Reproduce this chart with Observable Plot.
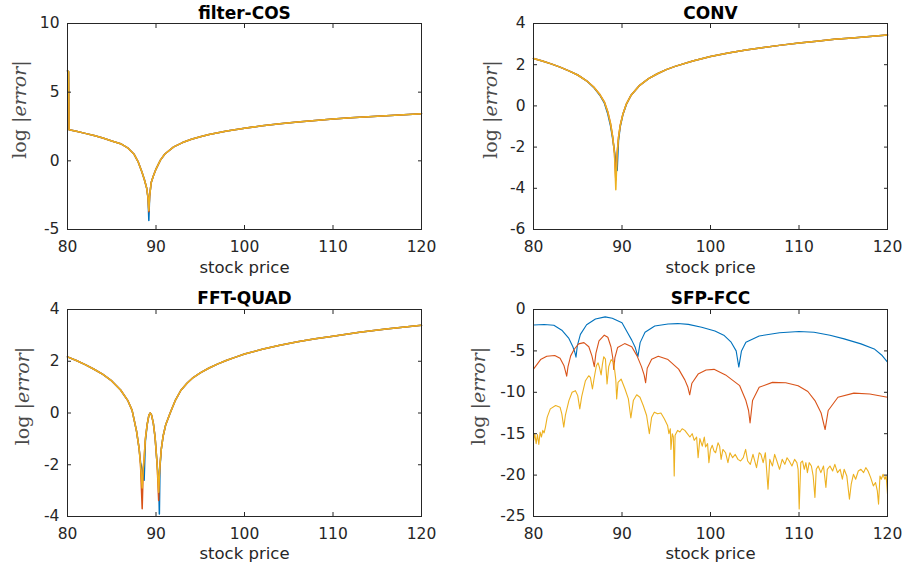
<!DOCTYPE html>
<html><head><meta charset="utf-8">
<script src="https://cdn.jsdelivr.net/npm/d3@7"></script>
<script src="https://cdn.jsdelivr.net/npm/@observablehq/plot@0.6"></script>
<style>
body{margin:0;background:#fff;}
#chart{position:relative;width:903px;height:567px;background:#fff;overflow:hidden;}
#chart svg{position:absolute;overflow:visible;}
</style></head><body><div id="chart"></div>
<script>
// ---------- data ----------
const titles = ["filter-COS", "CONV", "FFT-QUAD", "SFP-FCC"];
const xTicks = [80, 90, 100, 110, 120];
const yTicks1 = [-5, 0, 5, 10];
const yTicks2 = [-6, -4, -2, 0, 2, 4];
const yTicks3 = [-4, -2, 0, 2, 4];
const yTicks4 = [-25, -20, -15, -10, -5, 0];

// panel 1: filter-COS
const p1X      = [80, 80.12, 80.18, 81, 82, 83, 84, 85, 86, 86.8, 87.5, 88, 88.4, 88.7, 88.95, 89.1, 89.19, 89.28, 89.45, 89.7, 90, 90.5, 91, 92, 93, 94, 95, 96, 98, 100, 102, 104, 106, 108, 110, 112, 114, 116, 118, 120];
const p1Blue   = [6.55, 6.5, 2.27, 2.15, 2.0, 1.84, 1.66, 1.45, 1.25, 0.95, 0.5, -0.1, -0.8, -1.4, -2.0, -2.7, -4.35, -2.6, -1.6, -1.1, -0.6, 0.05, 0.5, 1.02, 1.33, 1.57, 1.76, 1.92, 2.17, 2.38, 2.55, 2.7, 2.82, 2.93, 3.04, 3.13, 3.21, 3.29, 3.36, 3.43];
const p1Red    = [6.55, 6.5, 2.27, 2.15, 2.0, 1.84, 1.66, 1.45, 1.25, 0.95, 0.5, -0.1, -0.8, -1.4, -2.0, -2.7, -3.7, -2.6, -1.6, -1.1, -0.6, 0.05, 0.5, 1.02, 1.33, 1.57, 1.76, 1.92, 2.17, 2.38, 2.55, 2.7, 2.82, 2.93, 3.04, 3.13, 3.21, 3.29, 3.36, 3.43];
const p1Yellow = [6.55, 6.5, 2.27, 2.15, 2.0, 1.84, 1.66, 1.45, 1.25, 0.95, 0.5, -0.1, -0.8, -1.4, -2.0, -2.7, -3.62, -2.6, -1.6, -1.1, -0.6, 0.05, 0.5, 1.02, 1.33, 1.57, 1.76, 1.92, 2.17, 2.38, 2.55, 2.7, 2.82, 2.93, 3.04, 3.13, 3.21, 3.29, 3.36, 3.43];

// panel 2: CONV
const p2X      = [80, 81, 82, 83, 84, 85, 86, 86.8, 87.5, 88, 88.4, 88.7, 88.95, 89.15, 89.3, 89.45, 89.6, 89.8, 90.1, 90.5, 91, 92, 93, 94, 95, 96, 98, 100, 102, 104, 106, 108, 110, 112, 114, 116, 118, 120];
const p2Blue   = [2.3, 2.18, 2.04, 1.88, 1.7, 1.5, 1.22, 0.9, 0.52, 0.15, -0.4, -0.95, -1.6, -2.2, -2.7, -3.14, -1.7, -1.0, -0.42, 0.08, 0.5, 1.0, 1.32, 1.56, 1.76, 1.92, 2.18, 2.4, 2.57, 2.71, 2.84, 2.95, 3.05, 3.14, 3.23, 3.3, 3.37, 3.44];
const p2Red    = [2.3, 2.18, 2.04, 1.88, 1.7, 1.5, 1.22, 0.92, 0.55, 0.2, -0.3, -0.85, -1.5, -2.3, -3.6, -2.3, -1.55, -0.95, -0.4, 0.1, 0.5, 1.0, 1.32, 1.56, 1.76, 1.92, 2.18, 2.4, 2.57, 2.71, 2.84, 2.95, 3.05, 3.14, 3.23, 3.3, 3.37, 3.44];
const p2Yellow = [2.3, 2.18, 2.04, 1.88, 1.7, 1.5, 1.22, 0.92, 0.55, 0.2, -0.3, -0.85, -1.5, -2.3, -4.07, -2.3, -1.55, -0.95, -0.4, 0.1, 0.5, 1.0, 1.32, 1.56, 1.76, 1.92, 2.18, 2.4, 2.57, 2.71, 2.84, 2.95, 3.05, 3.14, 3.23, 3.3, 3.37, 3.44];

// panel 3: FFT-QUAD
const p3X      = [80, 81, 82, 83, 84, 85, 86, 86.8, 87.3, 87.8, 88.1, 88.25, 88.44, 88.55, 88.66, 88.8, 89.0, 89.2, 89.35, 89.5, 89.7, 89.9, 90.13, 90.3, 90.38, 90.45, 90.6, 90.8, 91.1, 91.6, 92.2, 92.8, 93.5, 94.2, 95, 96, 97, 98, 99, 100, 102, 104, 106, 108, 110, 113, 116, 120];
const p3Blue   = [2.17, 2.03, 1.87, 1.69, 1.49, 1.24, 0.89, 0.49, 0.1, -0.7, -1.4, -1.9, -2.2, -2.45, -2.6, -1.1, -0.45, -0.08, 0.0, -0.08, -0.4, -0.95, -2.0, -2.6, -3.9, -2.1, -1.4, -0.9, -0.45, 0.0, 0.5, 0.87, 1.15, 1.37, 1.55, 1.74, 1.9, 2.04, 2.16, 2.28, 2.46, 2.62, 2.75, 2.87, 2.97, 3.12, 3.25, 3.39];
const p3Red    = [2.17, 2.03, 1.87, 1.69, 1.49, 1.24, 0.89, 0.49, 0.1, -0.7, -1.4, -2.0, -3.7, -2.2, -1.75, -1.0, -0.45, -0.08, 0.0, -0.08, -0.4, -0.95, -2.0, -3.38, -2.4, -2.0, -1.4, -0.9, -0.45, 0.0, 0.5, 0.87, 1.15, 1.37, 1.55, 1.74, 1.9, 2.04, 2.16, 2.28, 2.46, 2.62, 2.75, 2.87, 2.97, 3.12, 3.25, 3.39];
const p3Yellow = [2.17, 2.03, 1.87, 1.69, 1.49, 1.24, 0.89, 0.49, 0.1, -0.7, -1.4, -2.0, -2.9, -2.2, -1.75, -1.0, -0.45, -0.08, 0.0, -0.08, -0.4, -0.95, -2.0, -3.06, -2.4, -2.0, -1.4, -0.9, -0.45, 0.0, 0.5, 0.87, 1.15, 1.37, 1.55, 1.74, 1.9, 2.04, 2.16, 2.28, 2.46, 2.62, 2.75, 2.87, 2.97, 3.12, 3.25, 3.39];

// panel 4: SFP-FCC  ([stock price, log|error|])
const p4Blue = [[80,-1.88],[81.2,-1.82],[82.3,-1.9],[83.2,-2.5],[84.0,-3.5],[84.45,-4.5],[84.65,-5.1],[84.8,-5.75],[84.95,-4.4],[85.3,-3.0],
  [86.0,-1.85],[87.0,-1.15],[88.1,-0.89],[88.9,-1.05],[90.0,-1.6],[90.6,-2.75],[91.1,-3.7],[91.5,-4.6],[91.8,-5.7],[92.05,-4.0],
  [92.6,-2.75],[93.7,-2.0],[95.2,-1.75],[96.3,-1.7],[97.5,-1.8],[99.0,-2.14],[100.5,-2.6],[101.5,-3.1],[102.3,-3.9],[102.9,-5.0],
  [103.2,-6.95],[103.5,-5.0],[104.0,-3.95],[105.5,-3.2],[107.8,-2.8],[110.0,-2.65],[111.7,-2.75],[113.5,-3.1],[115.1,-3.55],[117.0,-4.15],
  [118.5,-4.76],[119.4,-5.56],[120,-6.35]];
const p4Red = [[80,-7.2],[80.8,-6.05],[81.5,-5.65],[82.4,-5.55],[83.0,-5.9],[83.45,-6.8],[83.6,-7.4],[83.75,-8.05],[83.9,-6.9],[84.2,-5.6],
  [84.6,-4.8],[85.1,-4.15],[85.7,-4.0],[86.25,-4.5],[86.6,-5.6],[86.87,-6.9],[87.05,-5.3],[87.4,-3.8],[88.0,-3.1],[88.4,-3.35],
  [88.75,-4.5],[88.95,-5.8],[89.07,-7.25],[89.2,-5.8],[89.5,-4.6],[90.3,-4.12],[91.1,-4.5],[91.7,-5.6],[92.2,-6.9],[92.5,-7.9],
  [92.67,-8.85],[92.85,-7.1],[93.35,-6.0],[94.1,-5.65],[95.2,-6.05],[96.4,-7.2],[97.1,-8.5],[97.45,-9.4],[97.65,-10.3],[97.9,-8.9],
  [98.6,-7.8],[99.5,-7.3],[100.4,-7.23],[101.7,-7.9],[103.3,-9.2],[104.0,-11.0],[104.3,-12.2],[104.47,-13.7],[104.75,-11.0],[105.5,-9.4],
  [107.0,-8.8],[108.5,-8.85],[109.9,-9.2],[111.0,-9.9],[111.8,-11.0],[112.5,-12.5],[112.95,-14.5],[113.3,-12.2],[114.4,-10.6],[116.2,-10.1],
  [118.0,-10.2],[120,-10.6]];
const p4Yellow = [[80.0,-15.9],[80.15,-15.0],[80.3,-16.2],[80.45,-15.1],[80.6,-16.3],[80.75,-14.8],[80.9,-15.4],[81.05,-14.6],[81.2,-14.9],[81.35,-14.2],
  [81.55,-13.0],[81.9,-12.0],[82.5,-11.6],[83.0,-11.8],[83.2,-12.6],[83.42,-14.2],[83.6,-12.8],[84.0,-11.0],[84.36,-10.0],[84.74,-9.8],
  [85.0,-10.4],[85.23,-12.0],[85.45,-10.5],[85.87,-8.6],[86.24,-8.0],[86.43,-8.2],[86.66,-9.6],[86.85,-8.3],[87.1,-6.8],[87.3,-6.45],
  [87.45,-7.0],[87.64,-7.9],[87.79,-6.6],[87.94,-5.7],[88.13,-6.0],[88.31,-9.0],[88.5,-6.9],[88.77,-6.05],[89.07,-6.4],[89.3,-8.5],
  [89.4,-10.8],[89.55,-8.8],[89.9,-8.4],[90.34,-9.6],[90.72,-10.8],[91.0,-13.1],[91.28,-11.0],[91.66,-10.3],[92.03,-10.6],[92.4,-11.6],
  [92.78,-12.8],[93.09,-15.0],[93.35,-13.0],[93.65,-12.4],[94.03,-12.6],[94.4,-12.5],[94.78,-13.2],[95.15,-14.0],[95.3,-15.0],[95.46,-14.4],
  [95.53,-16.9],[95.68,-15.0],[95.8,-15.4],[95.9,-20.1],[96.0,-15.2],[96.28,-14.6],[96.54,-14.8],[96.8,-14.4],[97.1,-14.6],[97.38,-15.0],
  [97.67,-15.4],[97.93,-15.0],[98.16,-15.8],[98.43,-15.4],[98.6,-17.9],[98.8,-15.6],[99.07,-16.5],[99.3,-15.4],[99.44,-16.6],[99.67,-16.2],
  [99.82,-18.5],[100.0,-16.9],[100.2,-16.4],[100.4,-17.1],[100.58,-17.3],[100.85,-16.1],[101.03,-16.5],[101.2,-18.1],[101.4,-16.9],[101.7,-17.3],
  [101.97,-18.5],[102.2,-17.3],[102.5,-17.9],[102.8,-17.5],[103.1,-18.1],[103.4,-18.3],[103.7,-17.9],[103.97,-16.9],[104.2,-18.3],[104.5,-18.7],
  [104.8,-17.5],[105.2,-19.1],[105.5,-17.3],[105.7,-17.5],[105.95,-18.5],[106.2,-17.3],[106.5,-21.7],[106.7,-18.1],[107.0,-18.9],[107.25,-17.5],
  [107.5,-18.3],[107.8,-19.3],[108.1,-18.1],[108.4,-18.7],[108.65,-17.9],[108.9,-18.3],[109.2,-18.9],[109.5,-18.1],[109.76,-18.5],[109.9,-19.3],
  [110.02,-24.1],[110.2,-18.5],[110.4,-18.3],[110.6,-19.3],[110.78,-18.5],[110.95,-19.7],[111.15,-18.5],[111.4,-18.9],[111.6,-20.1],[111.8,-22.7],
  [111.95,-19.3],[112.17,-18.9],[112.47,-19.7],[112.77,-18.9],[113.04,-21.5],[113.2,-19.3],[113.5,-18.9],[113.8,-19.5],[114.05,-18.7],[114.35,-19.7],
  [114.65,-19.3],[114.9,-20.5],[115.1,-19.3],[115.4,-20.1],[115.7,-22.9],[115.9,-21.1],[116.15,-19.9],[116.4,-20.5],[116.7,-19.5],[117.0,-19.3],
  [117.3,-19.7],[117.55,-19.1],[117.8,-19.5],[118.1,-20.3],[118.4,-21.3],[118.65,-20.9],[118.85,-21.9],[118.99,-23.5],[119.15,-20.1],[119.3,-20.5],
  [119.5,-19.9],[119.7,-20.5],[119.85,-20.1],[120.0,-22.3]];

// ---------- drawing ----------
const BLUE = "#0072BD", RED = "#D95319", YELLOW = "#EDB120";
const AX = "#262626";
const chart = document.getElementById("chart");

function zipXY(xs, ys) { return xs.map((x, i) => [x, ys[i]]); }

function panel(cfg) {
  const marks = cfg.series.map(s => Plot.line(s.data, {stroke: s.color, strokeWidth: cfg.sw}));
  marks.push(
    Plot.frame({stroke: AX, strokeWidth: 1}),
    Plot.axisX({anchor: "bottom", ticks: xTicks, tickSize: -4, tickPadding: 15, tickFormat: d => String(d), stroke: AX, fill: AX, label: null}),
    Plot.axisX({anchor: "top", ticks: xTicks, tickSize: -4, stroke: AX, fill: "none", label: null}),
    Plot.axisY({anchor: "left", ticks: cfg.yTicks, tickSize: -4, tickPadding: 12, tickFormat: d => String(d), stroke: AX, fill: AX, label: null}),
    Plot.axisY({anchor: "right", ticks: cfg.yTicks, tickSize: -4, stroke: AX, fill: "none", label: null}),
    Plot.text([cfg.title], {frameAnchor: "top", dy: cfg.titleDy, lineAnchor: "bottom", fontWeight: "bold", fontSize: 17, fill: "#000"}),
    Plot.text(["stock price"], {frameAnchor: "bottom", dy: cfg.xlabDy, lineAnchor: "bottom", fontSize: 16.5, letterSpacing: 0.8, fill: AX}),
    Plot.text(["log |error|"], {frameAnchor: "left", dx: cfg.ylabDx, dy: -17, rotate: -90, textAnchor: "middle", lineAnchor: "middle", fontFamily: "DejaVu Serif", fontSize: 19, fill: "#4a4a4a"})
  );
  const svg = Plot.plot({
    width: cfg.width, height: cfg.height,
    marginLeft: cfg.ml, marginRight: cfg.mr, marginTop: cfg.mt, marginBottom: cfg.mb,
    x: {domain: [80, 120], label: null},
    y: {domain: cfg.yDomain, label: null},
    style: {fontFamily: "DejaVu Sans", fontSize: "15.5px", color: AX, background: "transparent"},
    marks
  });
  svg.style.left = cfg.left + "px";
  svg.style.top = cfg.top + "px";
  svg.querySelectorAll("text").forEach(t => {
    if (t.textContent === "log |error|") {
      while (t.firstChild) t.removeChild(t.firstChild);
      const ns = "http://www.w3.org/2000/svg";
      t.appendChild(document.createTextNode("log |"));
      const it = document.createElementNS(ns, "tspan");
      it.setAttribute("font-style", "italic");
      it.textContent = "error";
      t.appendChild(it);
      t.appendChild(document.createTextNode("|"));
    }
  });
  chart.appendChild(svg);
}

panel({left: 0, top: 0, width: 451, height: 285, ml: 67, mr: 30, mt: 23, mb: 56, titleDy: -5, xlabDy: 43, ylabDx: -48,
  yDomain: [-5, 10], yTicks: yTicks1, title: titles[0], sw: 1.5,
  series: [{data: zipXY(p1X, p1Blue), color: BLUE}, {data: zipXY(p1X, p1Red), color: RED}, {data: zipXY(p1X, p1Yellow), color: YELLOW}]});
panel({left: 451, top: 0, width: 452, height: 285, ml: 82, mr: 16, mt: 23, mb: 56, titleDy: -5, xlabDy: 43, ylabDx: -43,
  yDomain: [-6, 4], yTicks: yTicks2, title: titles[1], sw: 1.5,
  series: [{data: zipXY(p2X, p2Blue), color: BLUE}, {data: zipXY(p2X, p2Red), color: RED}, {data: zipXY(p2X, p2Yellow), color: YELLOW}]});
panel({left: 0, top: 285, width: 451, height: 282, ml: 67, mr: 30, mt: 24, mb: 51, titleDy: -5.5, xlabDy: 42, ylabDx: -45,
  yDomain: [-4, 4], yTicks: yTicks3, title: titles[2], sw: 1.5,
  series: [{data: zipXY(p3X, p3Blue), color: BLUE}, {data: zipXY(p3X, p3Red), color: RED}, {data: zipXY(p3X, p3Yellow), color: YELLOW}]});
panel({left: 451, top: 285, width: 452, height: 282, ml: 82, mr: 16, mt: 24, mb: 51, titleDy: -5.5, xlabDy: 42, ylabDx: -55,
  yDomain: [-25, 0], yTicks: yTicks4, title: titles[3], sw: 1.1,
  series: [{data: p4Blue, color: BLUE}, {data: p4Red, color: RED}, {data: p4Yellow, color: YELLOW}]});
</script></body></html>
